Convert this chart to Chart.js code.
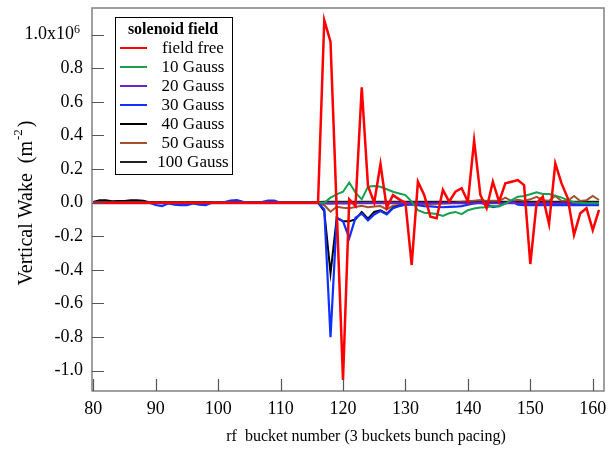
<!DOCTYPE html>
<html>
<head>
<meta charset="utf-8">
<script src="https://cdn.jsdelivr.net/npm/chart.js@4.4.0/dist/chart.umd.min.js"></script>
<style>
  html, body { margin: 0; padding: 0; background: #fff; }
  #wrap { width: 611px; height: 453px; }
</style>
</head>
<body>
<div id="wrap"><canvas id="wake" width="611" height="453"></canvas></div>
<script>
// ------
// data (wake in units of 1e6 m^-2)
// ------
const buckets = [
  80, 81, 82, 83, 84, 85, 86, 87, 88, 89,
  90, 91, 92, 93, 94, 95, 96, 97, 98, 99,
  100, 101, 102, 103, 104, 105, 106, 107, 108, 109,
  110, 111, 112, 113, 114, 115, 116, 117, 118, 119,
  120, 121, 122, 123, 124, 125, 126, 127, 128, 129,
  130, 131, 132, 133, 134, 135, 136, 137, 138, 139,
  140, 141, 142, 143, 144, 145, 146, 147, 148, 149,
  150, 151, 152, 153, 154, 155, 156, 157, 158, 159,
  160, 161,
];

const fieldFree = [
  0, 0, 0, 0, 0, 0, 0, 0, 0, 0,
  0, 0, 0, 0, 0, 0, 0, 0, 0, 0,
  0, 0, 0, 0, 0, 0, 0, 0, 0, 0,
  0, 0, 0, 0, 0, 0, 0, 1.087, 0.958, -0.05,
  -1.055, 0.02, -0.02, 0.687, 0.10, 0.0, 0.23, -0.03, 0.045, 0.02,
  0.0, -0.371, 0.125, 0.046, -0.083, -0.093, 0.076, 0.006, 0.065, 0.086,
  0.006, 0.37, 0.046, -0.033, 0.125, 0.006, 0.115, 0.125, 0.135, 0.105,
  -0.365, -0.004, 0.036, -0.127, 0.234, 0.115, 0.026, -0.192, -0.063, -0.033,
  -0.163, -0.043,
];

const gauss10 = [
  0, 0, 0, 0, 0, 0, 0, 0, 0, 0,
  0, 0, 0, 0, 0, 0, 0, 0, 0, 0,
  0, 0, 0, 0, 0, 0, 0, 0, 0, 0,
  0, 0, 0, 0, 0, 0, 0, 0, 0.03, 0.05,
  0.065, 0.12, 0.06, 0.02, 0.095, 0.1, 0.095, 0.08, 0.065, 0.055,
  0.045, 0.006, -0.045, -0.06, -0.063, -0.067, -0.079, -0.063, -0.055, -0.068,
  -0.045, -0.035, -0.028, -0.027, -0.02, -0.022, -0.005, 0.015, 0.036, 0.04,
  0.05, 0.062, 0.052, 0.052, 0.042, 0.03, 0.015, 0.003, 0, -0.004,
  -0.004, -0.004,
];

const gauss20 = [
  -0.004, -0.004, -0.004, -0.004, -0.004, -0.004, -0.004, -0.004, -0.004, -0.004,
  -0.004, -0.004, -0.004, -0.004, -0.004, -0.004, -0.004, -0.004, -0.004, -0.004,
  -0.004, -0.004, -0.004, -0.004, -0.004, -0.004, -0.004, -0.004, -0.004, -0.004,
  -0.004, -0.004, -0.004, -0.004, -0.004, -0.004, -0.004, -0.005, -0.006, -0.005,
  -0.005, -0.005, -0.004, -0.004, -0.004, -0.004, -0.004, -0.004, -0.004, -0.004,
  -0.004, -0.004, -0.004, -0.004, -0.004, -0.004, -0.004, -0.004, -0.004, -0.004,
  -0.004, -0.004, -0.004, -0.004, -0.004, -0.004, -0.004, -0.004, -0.004, -0.004,
  -0.004, -0.004, -0.004, -0.004, -0.004, -0.004, -0.004, -0.004, -0.004, -0.004,
  -0.004, -0.004,
];

const gauss30 = [
  0, 0, 0, 0, 0, 0, 0, 0, 0, 0,
  -0.014, -0.02, -0.005, -0.012, -0.015, -0.014, -0.004, -0.012, -0.014, 0,
  0, 0.003, 0.012, 0.016, 0.005, 0, 0, 0.003, 0.012, 0.012,
  0, 0, 0, 0, 0, 0, 0, -0.04, -0.80, -0.09,
  -0.11, -0.21, -0.09, -0.065, -0.105, -0.07, -0.05, -0.07, -0.033, -0.02,
  -0.012, -0.01, -0.015, -0.02, -0.022, -0.025, -0.027, -0.025, -0.024, -0.02,
  -0.012, -0.005, 0, -0.01, -0.027, -0.02, -0.004, 0.01, -0.012, -0.014,
  -0.015, -0.015, -0.015, -0.015, -0.015, -0.015, -0.015, -0.015, -0.015, -0.015,
  -0.015, -0.015,
];

const gauss40 = [
  0.005, 0.015, 0.015, 0.008, 0.01, 0.01, 0.015, 0.015, 0.012, 0.003,
  0, 0, 0, 0, 0, 0, 0, 0, 0, 0,
  0, 0, 0, 0, 0, 0, 0, 0, 0, 0,
  0, 0, 0, 0, 0, 0, 0, -0.05, -0.42, -0.09,
  -0.11, -0.11, -0.10, -0.055, -0.095, -0.055, -0.045, -0.065, -0.03, -0.018,
  -0.01, -0.005, 0, 0, 0, 0, 0, 0, 0, 0,
  0, 0, 0, 0, 0, 0, 0, 0, 0, 0,
  0, 0, 0, 0, 0, 0, 0, 0, 0, 0,
  0, 0,
];

const gauss50 = [
  0, 0, 0, 0, 0, 0, 0, 0, 0, 0,
  0, 0, 0, 0, 0, 0, 0, 0, 0, 0,
  0, 0, 0, 0, 0, 0, 0, 0, 0, 0,
  0, 0, 0, 0, 0, 0, 0, -0.015, -0.054, -0.024,
  -0.03, -0.033, -0.026, -0.018, -0.027, -0.022, -0.02, -0.04, -0.018, -0.014,
  -0.012, -0.01, -0.01, -0.01, -0.008, -0.006, -0.005, -0.003, 0, 0.005,
  0.008, 0.012, 0.016, 0.01, 0.012, 0.01, 0.03, 0.01, 0.018, 0.01,
  0.02, 0.035, 0.015, 0.012, 0.04, 0.01, 0.012, 0.04, 0.01, 0.015,
  0.04, 0.016,
];

const gauss100 = [
  0.004, 0.004, 0.004, 0.004, 0.004, 0.004, 0.004, 0.004, 0.004, 0.004,
  0.004, 0.004, 0.004, 0.004, 0.004, 0.004, 0.004, 0.004, 0.004, 0.004,
  0.004, 0.004, 0.004, 0.004, 0.004, 0.004, 0.004, 0.004, 0.004, 0.004,
  0.004, 0.004, 0.004, 0.004, 0.004, 0.004, 0.004, 0.005, 0.005, 0.005,
  0.005, 0.005, 0.005, 0.005, 0.005, 0.005, 0.005, 0.005, 0.005, 0.005,
  0.005, 0.005, 0.005, 0.005, 0.005, 0.005, 0.005, 0.005, 0.005, 0.005,
  0.005, 0.005, 0.005, 0.005, 0.005, 0.005, 0.005, 0.005, 0.005, 0.005,
  0.005, 0.005, 0.005, 0.005, 0.005, 0.005, 0.005, 0.005, 0.005, 0.005,
  0.005, 0.005,
];

const seriesNames = ['field free', '10 Gauss', '20 Gauss', '30 Gauss', '40 Gauss', '50 Gauss', '100 Gauss'];
const xTicks = [80, 90, 100, 110, 120, 130, 140, 150, 160];
const yTicks = [-1.0, -0.8, -0.6, -0.4, -0.2, 0.0, 0.2, 0.4, 0.6, 0.8, 1.0];

// ------
// styles
// ------
const serif = '"Liberation Serif", "Times New Roman", serif';
const lineColors = ['#ff0000', '#17a04e', '#6a22cc', '#1030ff', '#000000', '#a0522d', '#222222'];
const lineWidths = [2.5, 2, 2, 2.2, 2, 2, 2];

const series = [fieldFree, gauss10, gauss20, gauss30, gauss40, gauss50, gauss100];

const datasets = series.map((vals, i) => ({
  label: seriesNames[i],
  data: vals.map((v, k) => ({ x: buckets[k], y: v })),
  borderColor: lineColors[i],
  backgroundColor: lineColors[i],
  borderWidth: lineWidths[i],
  pointRadius: 0,
  tension: 0,
  fill: false,
}));

// frame, inner tick marks, titles with superscripts, boxed legend
const decor = {
  id: 'decor',
  afterDraw(chart) {
    const { ctx, chartArea: a, scales: { x, y } } = chart;
    ctx.save();

    // frame
    ctx.strokeStyle = '#808080';
    ctx.lineWidth = 1.5;
    ctx.strokeRect(a.left, a.top, a.right - a.left, a.bottom - a.top);

    // ticks pointing inward
    ctx.strokeStyle = '#555';
    ctx.lineWidth = 1.2;
    ctx.beginPath();
    xTicks.forEach(v => {
      const p = Math.round(x.getPixelForValue(v)) + 0.5;
      ctx.moveTo(p, a.bottom);
      ctx.lineTo(p, a.bottom - 12);
    });
    yTicks.forEach(v => {
      const p = Math.round(y.getPixelForValue(v)) + 0.5;
      ctx.moveTo(a.left, p);
      ctx.lineTo(a.left + 12, p);
    });
    ctx.stroke();

    ctx.fillStyle = '#000';

    // exponent on the top tick label
    ctx.font = '12px ' + serif;
    ctx.textAlign = 'left';
    ctx.textBaseline = 'alphabetic';
    ctx.fillText('6', 74, y.getPixelForValue(1.0) - 2);

    // y title
    ctx.save();
    ctx.translate(32, 203);
    ctx.rotate(-Math.PI / 2);
    const main = 'Vertical Wake  (m';
    ctx.font = '20px ' + serif;
    const wMain = ctx.measureText(main).width;
    const wEnd = ctx.measureText(')').width;
    ctx.font = '13px ' + serif;
    const wSup = ctx.measureText('-2').width;
    const x0 = -(wMain + wSup + wEnd + 3) / 2;
    ctx.font = '20px ' + serif;
    ctx.fillText(main, x0, 0);
    ctx.font = '13px ' + serif;
    ctx.fillText('-2', x0 + wMain + 1, -10);
    ctx.font = '20px ' + serif;
    ctx.fillText(')', x0 + wMain + wSup + 3, 0);
    ctx.restore();

    // x title
    ctx.font = '16px ' + serif;
    ctx.textAlign = 'center';
    ctx.textBaseline = 'middle';
    ctx.fillText('rf  bucket number (3 buckets bunch pacing)', 366, 437);

    // legend
    ctx.fillStyle = '#fff';
    ctx.fillRect(115, 17, 117, 157);
    ctx.strokeStyle = '#000';
    ctx.lineWidth = 1;
    ctx.strokeRect(115.5, 17.5, 117, 157);
    ctx.fillStyle = '#000';
    ctx.font = 'bold 16px ' + serif;
    ctx.fillText('solenoid field', 173, 30);
    ctx.font = '17px ' + serif;
    chart.data.datasets.forEach((ds, i) => {
      const ly = 48 + i * 19;
      ctx.strokeStyle = ds.borderColor;
      ctx.lineWidth = 2;
      ctx.beginPath();
      ctx.moveTo(120, ly);
      ctx.lineTo(147, ly);
      ctx.stroke();
      ctx.fillText(ds.label, 193, ly + 1);
    });

    ctx.restore();
  },
};

const wake = document.getElementById('wake');
new Chart(wake, {
  type: 'line',
  data: { datasets },
  options: {
    responsive: false,
    animation: false,
    layout: { padding: { left: 0, right: 7, top: 8, bottom: 0 } },
    plugins: {
      legend: { display: false },
      tooltip: { enabled: false },
    },
    scales: {
      x: {
        type: 'linear',
        min: 79.8,
        max: 161.8,
        afterBuildTicks: scale => { scale.ticks = xTicks.map(v => ({ value: v })); },
        afterFit: scale => {
          scale.height = 62;
          scale.paddingLeft = 0;
          scale.paddingRight = 0;
        },
        grid: { display: false, drawTicks: false },
        border: { display: false },
        ticks: {
          color: '#000',
          font: { family: serif, size: 18 },
          padding: 7,
          maxRotation: 0,
          autoSkip: false,
        },
      },
      y: {
        type: 'linear',
        min: -1.121,
        max: 1.159,
        afterBuildTicks: scale => { scale.ticks = yTicks.map(v => ({ value: v })); },
        afterFit: scale => {
          scale.width = 92;
          scale.paddingTop = 0;
          scale.paddingBottom = 0;
        },
        grid: { display: false, drawTicks: false },
        border: { display: false },
        ticks: {
          color: '#000',
          font: { family: serif, size: 18 },
          padding: 9,
          autoSkip: false,
          callback: v => (Math.abs(v - 1) < 1e-9 ? '1.0x10  ' : v.toFixed(1)),
        },
      },
    },
  },
  plugins: [decor],
});
</script>
</body>
</html>
